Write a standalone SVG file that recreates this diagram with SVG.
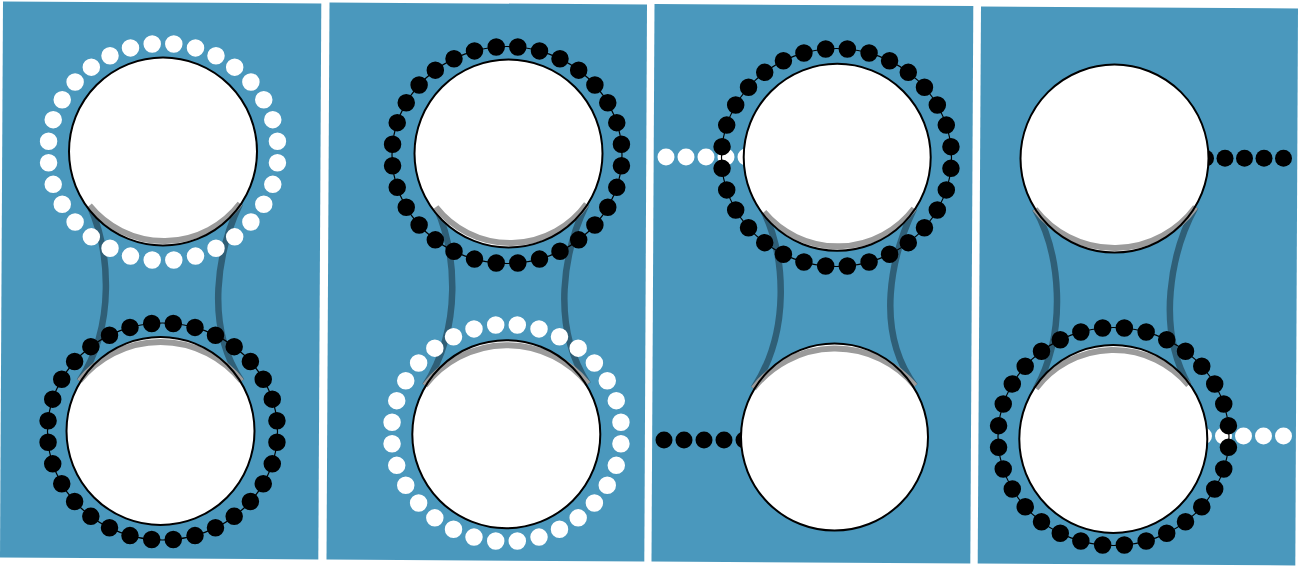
<svg xmlns="http://www.w3.org/2000/svg" width="1299" height="566" viewBox="0 0 1299 566">
<style>
.bg{fill:#4a98bd}
.neck{fill:none;stroke:#2f5f77;stroke-width:6.5}
.disk{fill:#fff}
.shade{fill:none;stroke:#9b9b9b;stroke-width:6}
.rim{fill:none;stroke:#000;stroke-width:2}
.string{fill:none;stroke:#000;stroke-width:1.2}
.beads{fill:none;stroke-width:17.5;stroke-linecap:round;stroke-dasharray:0 1;stroke-dashoffset:0.5}
.w{stroke:#fff}
.k{stroke:#000}
.dw{fill:#fff}
.dk{fill:#000}
</style>
<rect width="1299" height="566" fill="#fff"/>
<g id="panels">
<polygon class="bg" points="3,1.5 321.3,3.5 318.3,559.5 0,557.5"/>
<polygon class="bg" points="329.5,2.5 647,4.5 644.3,561.5 326.5,559.5"/>
<polygon class="bg" points="654.5,4 973.3,6 970.3,563.5 651.5,561.5"/>
<polygon class="bg" points="981,6.5 1298,8.5 1295.3,565.5 977.7,563.5"/>
</g>
<g id="connectors">
<path class="neck" d="M89.5 205.5 C110 250 116 325 79.5 381"/>
<path class="neck" d="M240 203.5 C218 250 204 325 241.5 381"/>
<path class="neck" d="M436 207 C456 251 463 326 425 385.5"/>
<path class="neck" d="M586.5 204 C564 250 550 325 588 384"/>
<path class="neck" d="M764 212 C785 256 791 331 753.5 388.5"/>
<path class="neck" d="M914 208.5 C891.5 255.5 874 330 915 386"/>
<path class="neck" d="M1035 209 C1060 253 1068 330 1036 388.5"/>
<path class="neck" d="M1195.5 207 C1171 252 1156 328 1188.5 385"/>
</g>
<g id="p1-top">
<circle class="disk" cx="163" cy="151.5" r="94"/>
<path class="shade" d="M240 203.5 A95.8 95.8 0 0 1 89.5 205.5"/>
<circle class="rim" cx="163" cy="151.5" r="94"/>
<ellipse class="beads w" cx="163" cy="152" rx="115" ry="108.5" pathLength="32"/>
</g>
<g id="p1-bottom">
<circle class="disk" cx="160.5" cy="431" r="94"/>
<path class="shade" d="M79.5 381 A103.6 103.6 0 0 1 241.5 381"/>
<circle class="rim" cx="160.5" cy="431" r="94"/>
<ellipse class="string" cx="162.5" cy="431.5" rx="115" ry="108.5"/>
<ellipse class="beads k" cx="162.5" cy="431.5" rx="115" ry="108.5" pathLength="32"/>
</g>
<g id="p2-top">
<circle class="disk" cx="508.5" cy="153.5" r="94"/>
<path class="shade" d="M586.5 204 A94.3 94.3 0 0 1 436 207"/>
<circle class="rim" cx="508.5" cy="153.5" r="94"/>
<ellipse class="string" cx="507" cy="155" rx="115" ry="108.5"/>
<ellipse class="beads k" cx="507" cy="155" rx="115" ry="108.5" pathLength="32"/>
</g>
<g id="p2-bottom">
<circle class="disk" cx="506.3" cy="434.2" r="94"/>
<path class="shade" d="M425 385.5 A103.7 103.7 0 0 1 588 384"/>
<circle class="rim" cx="506.3" cy="434.2" r="94"/>
<ellipse class="beads w" cx="506.5" cy="433" rx="115" ry="108.5" pathLength="32"/>
</g>
<g id="p3-top">
<circle class="dw" cx="666" cy="157" r="8.5"/>
<circle class="dw" cx="686" cy="157" r="8.5"/>
<circle class="dw" cx="706" cy="157" r="8.5"/>
<circle class="dw" cx="726" cy="157" r="8.5"/>
<circle class="dw" cx="746" cy="157" r="8.5"/>
<circle class="disk" cx="837.2" cy="157.3" r="93.5"/>
<path class="shade" d="M914 208.5 A96 96 0 0 1 764 212"/>
<circle class="rim" cx="837.2" cy="157.3" r="93.5"/>
<ellipse class="string" cx="836.5" cy="157.5" rx="115" ry="109"/>
<ellipse class="beads k" cx="836.5" cy="157.5" rx="115" ry="109" pathLength="32"/>
</g>
<g id="p3-bottom">
<circle class="dk" cx="664" cy="440" r="8.5"/>
<circle class="dk" cx="684" cy="440" r="8.5"/>
<circle class="dk" cx="704" cy="440" r="8.5"/>
<circle class="dk" cx="724" cy="440" r="8.5"/>
<circle class="dk" cx="744" cy="440" r="8.5"/>
<circle class="disk" cx="834.5" cy="437.1" r="93.5"/>
<path class="shade" d="M753.5 388.5 A103.7 103.7 0 0 1 915 386"/>
<circle class="rim" cx="834.5" cy="437.1" r="93.5"/>
</g>
<g id="p4-top">
<circle class="dk" cx="1205.5" cy="158.3" r="8.5"/>
<circle class="dk" cx="1225" cy="158.3" r="8.5"/>
<circle class="dk" cx="1244.5" cy="158.3" r="8.5"/>
<circle class="dk" cx="1264" cy="158.3" r="8.5"/>
<circle class="dk" cx="1283.5" cy="158.3" r="8.5"/>
<circle class="disk" cx="1114.5" cy="158.6" r="94"/>
<path class="shade" d="M1195.5 207 A100.5 100.5 0 0 1 1035 209"/>
<circle class="rim" cx="1114.5" cy="158.6" r="94"/>
</g>
<g id="p4-bottom">
<circle class="dw" cx="1203.5" cy="436" r="8.5"/>
<circle class="dw" cx="1223.5" cy="436" r="8.5"/>
<circle class="dw" cx="1243.5" cy="436" r="8.5"/>
<circle class="dw" cx="1263.5" cy="436" r="8.5"/>
<circle class="dw" cx="1283.5" cy="436" r="8.5"/>
<circle class="disk" cx="1113.3" cy="439" r="94"/>
<path class="shade" d="M1036 388.5 A97.5 97.5 0 0 1 1188.5 385"/>
<circle class="rim" cx="1113.3" cy="439" r="94"/>
<ellipse class="string" cx="1113.5" cy="436.5" rx="115.5" ry="109"/>
<ellipse class="beads k" cx="1113.5" cy="436.5" rx="115.5" ry="109" pathLength="32"/>
</g>
</svg>
